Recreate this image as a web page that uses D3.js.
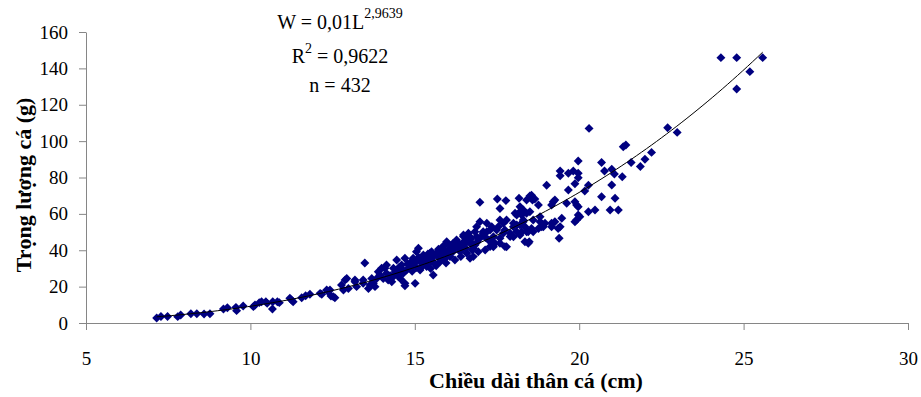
<!DOCTYPE html>
<html>
<head>
<meta charset="utf-8">
<script src="https://cdn.jsdelivr.net/npm/d3@7"></script>
<style>
  body { margin: 0; background: #fff; }
  svg { display: block; font-family: "Liberation Serif", "Times New Roman", serif; }
</style>
</head>
<body>
<figure id="scatter" style="margin:0"></figure>
<script>
// chiều dài (cm) / trọng lượng (g)
const lengths = [
  7.15, 7.28, 7.48, 7.79, 7.88, 8.19, 8.37, 8.59, 8.77, 9.18, 9.30, 9.56, 9.58, 9.78,
  10.09, 10.14, 10.27, 10.34, 10.47, 10.51, 10.67, 10.68, 10.82, 10.88, 11.20, 11.25, 11.30, 11.56, 11.68, 11.81,
  12.12, 12.17, 12.32, 12.37, 12.45, 12.52, 12.57, 12.77, 12.83, 12.93, 12.98,
  13.18, 13.23, 13.43, 13.48, 13.59, 13.64, 13.69, 13.74, 13.79, 13.84, 13.89, 13.99,
  14.04, 14.14, 14.14, 14.19, 14.25, 14.30, 14.35, 14.35, 14.40, 14.45, 14.45, 14.50, 14.55, 14.58, 14.60, 14.62,
  14.65, 14.70, 14.70, 14.70, 14.75, 14.80, 14.85, 14.88, 14.92, 14.95,
  15.01, 15.05, 15.05, 15.11, 15.12, 15.16, 15.16, 15.20, 15.21, 15.26, 15.26, 15.30, 15.36, 15.36, 15.40, 15.42,
  15.46, 15.48, 15.51, 15.55, 15.56, 15.60, 15.65, 15.66, 15.66, 15.72, 15.77, 15.77, 15.82, 15.85, 15.87, 15.90,
  15.92, 15.95, 15.97, 15.97,
  16.05, 16.07, 16.12, 16.15, 16.17, 16.22, 16.27, 16.27, 16.35, 16.37, 16.38, 16.40, 16.45, 16.47, 16.48, 16.55,
  16.58, 16.58, 16.60, 16.63, 16.68, 16.68, 16.70, 16.75, 16.78, 16.78, 16.83, 16.83, 16.88, 16.90, 16.93, 16.98, 16.98,
  17.03, 17.08, 17.14, 17.19, 17.19, 17.24, 17.29, 17.29, 17.34, 17.39, 17.39, 17.44, 17.49, 17.51, 17.54, 17.59,
  17.59, 17.59, 17.59, 17.69, 17.69, 17.74, 17.74, 17.77, 17.79, 17.79, 17.90, 17.90,
  18.00, 18.00, 18.00, 18.10, 18.10, 18.10, 18.17, 18.20, 18.20, 18.20, 18.20, 18.25, 18.30, 18.30, 18.35, 18.35,
  18.40, 18.40, 18.40, 18.45, 18.48, 18.50, 18.50, 18.55, 18.55, 18.58, 18.60, 18.60, 18.65, 18.76, 18.76, 18.81,
  18.81, 18.86, 18.91, 18.96,
  19.01, 19.16, 19.16, 19.16, 19.21, 19.26, 19.26, 19.36, 19.39, 19.42, 19.42, 19.42, 19.47, 19.62, 19.67, 19.67,
  19.82, 19.87, 19.87, 19.87, 19.92, 19.92, 19.97, 19.97, 19.97, 19.97, 19.97,
  20.02, 20.17, 20.28, 20.28, 20.30, 20.48, 20.68, 20.68, 20.77, 20.94, 20.99, 20.99, 21.07, 21.09, 21.19, 21.31,
  21.34, 21.42, 21.58, 21.86, 22.00, 22.20, 22.69, 22.98, 24.31, 24.79, 24.79, 25.19, 25.58,
  // dense band, second reading
  12.42, 12.88, 13.18, 13.43, 13.94, 14.09, 14.90, 15.26, 15.46, 15.97, 16.48, 16.68, 16.88, 17.08, 18.25, 18.05,
  18.30, 18.45, 14.52, 14.78, 14.98, 15.08, 15.28, 15.50, 15.70, 15.88, 16.02, 16.20, 16.32, 16.52, 16.72, 16.95,
  17.15, 17.35
];
const weights = [
  2.8, 3.6, 3.6, 3.5, 4.4, 5.1, 5.1, 5.0, 5.1, 7.7, 8.4, 8.6, 6.8, 9.3,
  9.0, 9.9, 11.2, 11.7, 11.7, 10.8, 7.7, 11.7, 11.7, 11.2, 13.6, 12.6, 11.7, 13.9, 15.0, 15.8,
  16.3, 15.8, 18.1, 17.2, 14.8, 14.5, 13.9, 20.9, 18.1, 24.5, 19.0,
  23.6, 20.0, 23.6, 33.0, 19.0, 20.9, 24.5, 21.8, 20.0, 24.5, 28.2, 30.1,
  24.5, 31.9, 27.3, 23.6, 26.0, 22.7, 30.1, 25.5, 28.0, 34.6, 29.1, 25.5, 27.3, 24.0, 31.9, 29.5,
  27.3, 35.6, 21.8, 20.5, 29.1, 30.1, 31.9, 33.5, 28.5, 35.6,
  21.8, 39.2, 30.5, 41.1, 36.0, 33.7, 29.1, 35.0, 31.0, 37.4, 31.9, 34.0, 35.6, 31.0, 38.0, 32.5,
  34.6, 30.0, 39.2, 36.5, 26.4, 33.0, 31.5, 38.3, 37.4, 40.5, 35.6, 33.7, 38.0, 42.0, 40.1, 35.0,
  42.9, 33.0, 44.7, 37.4,
  40.5, 36.5, 42.9, 39.0, 43.8, 34.6, 45.6, 44.7, 42.0, 40.1, 39.2, 36.5, 44.0, 41.9, 47.5, 41.0,
  45.6, 38.3, 45.0, 49.3, 43.8, 35.6, 46.0, 40.0, 41.1, 36.5, 50.2, 42.9, 47.4, 44.5, 39.2, 66.4, 55.7,
  47.5, 49.3, 40.1, 54.8, 50.2, 45.6, 51.1, 42.0, 52.9, 47.4, 41.9, 43.8, 51.1, 68.2, 52.9, 63.0,
  56.6, 46.6, 43.8, 54.8, 49.3, 51.1, 42.0, 67.3, 56.6, 41.9, 49.3, 47.5,
  54.8, 52.9, 47.4, 59.4, 53.9, 50.2, 68.6, 63.9, 61.2, 53.9, 48.4, 59.4, 62.1, 55.7, 52.9, 44.7,
  67.6, 60.3, 50.2, 50.2, 44.7, 69.8, 61.2, 70.2, 52.0, 67.6, 56.6, 50.2, 68.2, 64.9, 52.0, 58.4,
  55.7, 52.9, 52.9, 54.8,
  75.7, 64.9, 54.8, 52.9, 66.7, 67.6, 55.7, 52.0, 46.6, 83.6, 81.0, 52.9, 57.6, 65.8, 82.3, 73.1,
  83.6, 76.6, 66.7, 55.7, 64.9, 56.6, 89.1, 82.3, 79.9, 63.9, 59.4,
  58.4, 72.6, 75.7, 61.2, 107.0, 62.1, 88.3, 69.4, 83.6, 62.1, 84.5, 75.9, 81.9, 68.6, 62.1, 80.4,
  96.9, 97.9, 88.3, 86.0, 90.0, 93.8, 107.4, 104.8, 145.9, 145.9, 128.7, 138.2, 145.9,
  18.1, 23.6, 22.7, 21.8, 26.4, 30.1, 31.0, 32.8, 38.3, 43.8, 48.4, 47.4, 52.9, 50.2, 50.2, 60.3,
  56.6, 43.8, 30.5, 32.5, 33.0, 34.5, 36.0, 35.5, 36.5, 37.5, 38.0, 41.0, 43.0, 43.5, 44.0, 46.5,
  47.0, 45.0
];

const xTicks = [5, 10, 15, 20, 25, 30];
const yTicks = [0, 20, 40, 60, 80, 100, 120, 140, 160];

// power trendline W = a * L^b as printed on the chart
const trendA = 0.01;
const trendB = 2.9639;

const width = 921;
const height = 397;
const margin = { top: 32, right: 13, bottom: 74, left: 86 };

const svg = d3.select('figure#scatter')
  .append('svg')
  .attr('width', width)
  .attr('height', height);

svg.append('rect')
  .attr('width', width)
  .attr('height', height)
  .attr('fill', '#fff');

const x = d3.scaleLinear()
  .domain([5, 30])
  .range([margin.left, width - margin.right]);

const y = d3.scaleLinear()
  .domain([0, 160])
  .range([height - margin.bottom, margin.top]);

// X axis
const xAxis = svg.append('g')
  .attr('transform', 'translate(0,' + (height - margin.bottom) + ')')
  .call(d3.axisBottom(x).tickValues(xTicks).tickSize(7).tickSizeOuter(0).tickPadding(22));

// Y axis
const yAxis = svg.append('g')
  .attr('transform', 'translate(' + margin.left + ',0)')
  .call(d3.axisLeft(y).tickValues(yTicks).tickSize(7).tickSizeOuter(0).tickPadding(11));

[xAxis, yAxis].forEach(g => {
  g.select('.domain').attr('stroke', '#868686');
  g.selectAll('.tick line').attr('stroke', '#868686');
  g.selectAll('.tick text')
    .attr('fill', '#000')
    .style('font-family', '"Liberation Serif", serif')
    .style('font-size', '19px');
});

// points
const pts = lengths.map((l, i) => ({ l: l, w: weights[i] }));
const diamond = d3.symbol().type(d3.symbolSquare).size(40);

svg.append('g')
  .selectAll('path')
  .data(pts)
  .enter()
  .append('path')
  .attr('d', diamond)
  .attr('transform', d => 'translate(' + x(d.l) + ',' + y(d.w) + ') rotate(45)')
  .attr('fill', '#000080');

// trendline over the data range
const lMin = d3.min(lengths);
const lMax = d3.max(lengths);
const curve = d3.range(0, 121).map(i => {
  const l = lMin + (lMax - lMin) * i / 120;
  return [l, trendA * Math.pow(l, trendB)];
});

svg.append('path')
  .datum(curve)
  .attr('fill', 'none')
  .attr('stroke', '#000')
  .attr('stroke-width', 1)
  .attr('d', d3.line().x(d => x(d[0])).y(d => y(d[1])));

// axis titles
svg.append('text')
  .attr('x', 536)
  .attr('y', 388)
  .attr('text-anchor', 'middle')
  .style('font-size', '22px')
  .style('font-weight', 'bold')
  .text('Chiều dài thân cá (cm)');

svg.append('text')
  .attr('transform', 'translate(31,185) rotate(-90)')
  .attr('text-anchor', 'middle')
  .style('font-size', '22px')
  .style('font-weight', 'bold')
  .text('Trọng lượng cá (g)');

// equation box
const eq = svg.append('g').style('font-size', '20px');

const t1 = eq.append('text').attr('x', 340).attr('y', 29).attr('text-anchor', 'middle');
t1.append('tspan').text('W = 0,01L');
t1.append('tspan').attr('dy', -11).style('font-size', '14px').text(trendB.toString().replace('.', ','));

const t2 = eq.append('text').attr('x', 340).attr('y', 63).attr('text-anchor', 'middle');
t2.append('tspan').text('R');
t2.append('tspan').attr('dy', -10).style('font-size', '14px').text('2');
t2.append('tspan').attr('dy', 10).text(' = 0,9622');

eq.append('text').attr('x', 340).attr('y', 92).attr('text-anchor', 'middle').text('n = 432');
</script>
</body>
</html>
